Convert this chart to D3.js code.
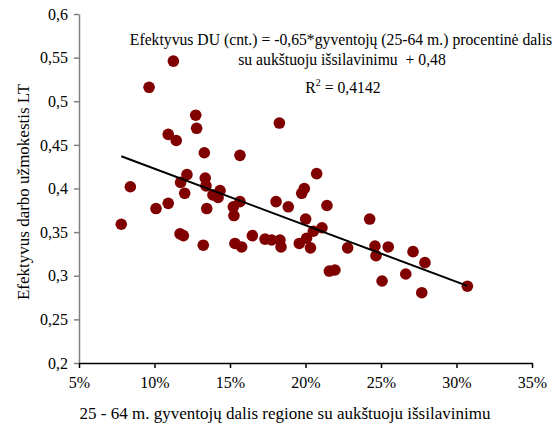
<!DOCTYPE html>
<html>
<head>
<meta charset="utf-8">
<script src="https://cdn.jsdelivr.net/npm/d3@7"></script>
<style>
  html, body { margin: 0; padding: 0; background: #fff; }
  svg { display: block; }
  text { font-family: "Liberation Serif", "Times New Roman", serif; fill: #000; white-space: pre; }
</style>
</head>
<body>
<svg id="chart" width="560" height="426"></svg>
<script>
// Share of population aged 25-64 with tertiary education, by region
const educationShare = [
  0.0780, 0.0840, 0.0964, 0.1010, 0.1091, 0.1091, 0.1125, 0.1144, 0.1173, 0.1169,
  0.1191, 0.1200, 0.1215, 0.1273, 0.1279, 0.1323, 0.1330, 0.1336, 0.1341, 0.1346,
  0.1387, 0.1421, 0.1434, 0.1522, 0.1526, 0.1533, 0.1566, 0.1566, 0.1577, 0.1648,
  0.1732, 0.1776, 0.1805, 0.1827, 0.1831, 0.1838, 0.1886, 0.1959, 0.1975, 0.1992,
  0.2001, 0.2007, 0.2033, 0.2052, 0.2074, 0.2109, 0.2142, 0.2158, 0.2195, 0.2279,
  0.2425, 0.2460, 0.2467, 0.2507, 0.2548, 0.2664, 0.2712, 0.2770, 0.2791, 0.3072
];
// Effective wage (LT) for the same regions
const effectiveWage = [
  0.359, 0.402, 0.516, 0.377, 0.462, 0.383, 0.546, 0.455, 0.407, 0.348,
  0.346, 0.3945, 0.416, 0.484, 0.469, 0.335, 0.441, 0.412, 0.403, 0.377,
  0.3926, 0.3897, 0.3977, 0.379, 0.369, 0.337, 0.438, 0.385, 0.333, 0.346,
  0.342, 0.341, 0.385, 0.475, 0.341, 0.333, 0.379, 0.337, 0.3945, 0.400,
  0.365, 0.343, 0.332, 0.351, 0.417, 0.355, 0.3805, 0.3054, 0.3066, 0.332,
  0.365, 0.334, 0.323, 0.294, 0.333, 0.302, 0.3276, 0.2806, 0.315, 0.288
];

const xTicks = [0.05, 0.10, 0.15, 0.20, 0.25, 0.30, 0.35];
const yTicks = [0.2, 0.25, 0.3, 0.35, 0.4, 0.45, 0.5, 0.55, 0.6];

const equationLines = [
  "Efektyvus DU (cnt.) = -0,65*gyventojų (25-64 m.) procentinė dalis",
  "su aukštuoju išsilavinimu  + 0,48"
];
const rSquaredLabel = "0,4142";
const xTitle = "25 - 64 m. gyventojų dalis regione su aukštuoju išsilavinimu";
const yTitle = "Efektyvus darbo užmokestis LT";

const svg = d3.select("#chart");
const ltLocale = d3.formatLocale({ decimal: ",", thousands: " ", grouping: [3], currency: ["", " Lt"] });
const fmtY = ltLocale.format("~g");
const fmtX = d3.format(".0%");

const x = d3.scaleLinear().domain([0.05, 0.35]).range([79, 532]);
const y = d3.scaleLinear().domain([0.2, 0.6]).range([363, 14]);

// Y axis (grey line, outward ticks)
const yAxis = svg.append("g")
  .attr("transform", `translate(${x.range()[0]},0)`)
  .call(d3.axisLeft(y).tickValues(yTicks).tickFormat(fmtY).tickSizeInner(5).tickSizeOuter(0).tickPadding(6));
yAxis.select(".domain").attr("stroke", "#808080").attr("stroke-width", 1.5);
yAxis.selectAll(".tick line").attr("stroke", "#808080").attr("stroke-width", 1.5);
yAxis.selectAll(".tick text").attr("font-size", 16).attr("font-family", "Liberation Serif").attr("fill", "#000");

// X axis (black line, downward ticks)
const xAxis = svg.append("g")
  .attr("transform", `translate(0,${y.range()[0]})`)
  .call(d3.axisBottom(x).tickValues(xTicks).tickFormat(fmtX).tickSizeInner(5).tickSizeOuter(0).tickPadding(9));
xAxis.select(".domain").attr("stroke", "#000").attr("stroke-width", 1.5);
xAxis.selectAll(".tick line").attr("stroke", "#000").attr("stroke-width", 1.5);
xAxis.selectAll(".tick text").attr("font-size", 16).attr("font-family", "Liberation Serif").attr("fill", "#000");

// Axis titles
svg.append("text")
  .attr("x", 285).attr("y", 419)
  .attr("text-anchor", "middle").attr("font-size", 17)
  .text(xTitle);
svg.append("text")
  .attr("transform", "translate(29,192) rotate(-90)")
  .attr("text-anchor", "middle").attr("font-size", 17)
  .text(yTitle);

// Scatter points
const points = educationShare.map((v, i) => ({ x: v, y: effectiveWage[i] }));
svg.append("g").selectAll("circle")
  .data(points)
  .join("circle")
  .attr("cx", d => x(d.x))
  .attr("cy", d => y(d.y))
  .attr("r", 5.8)
  .attr("fill", "#800000");

// Least-squares trend line over the observed range
const mx = d3.mean(points, d => d.x), my = d3.mean(points, d => d.y);
const slope = d3.sum(points, d => (d.x - mx) * (d.y - my)) / d3.sum(points, d => (d.x - mx) ** 2);
const intercept = my - slope * mx;
const [xMin, xMax] = d3.extent(points, d => d.x);
svg.append("line")
  .attr("x1", x(xMin)).attr("y1", y(intercept + slope * xMin))
  .attr("x2", x(xMax)).attr("y2", y(intercept + slope * xMax))
  .attr("stroke", "#000").attr("stroke-width", 2);

// Regression equation
const eq = svg.append("g").attr("font-size", 15.7);
eq.append("text").attr("x", 341).attr("y", 45).attr("text-anchor", "middle").text(equationLines[0]);
eq.append("text").attr("x", 342).attr("y", 65).attr("text-anchor", "middle").text(equationLines[1]);
const r2 = eq.append("text").attr("x", 343).attr("y", 93).attr("text-anchor", "middle");
r2.append("tspan").text("R");
r2.append("tspan").attr("font-size", 10).attr("dy", -7).text("2");
r2.append("tspan").attr("dy", 7).text(" = " + rSquaredLabel);
</script>
</body>
</html>
